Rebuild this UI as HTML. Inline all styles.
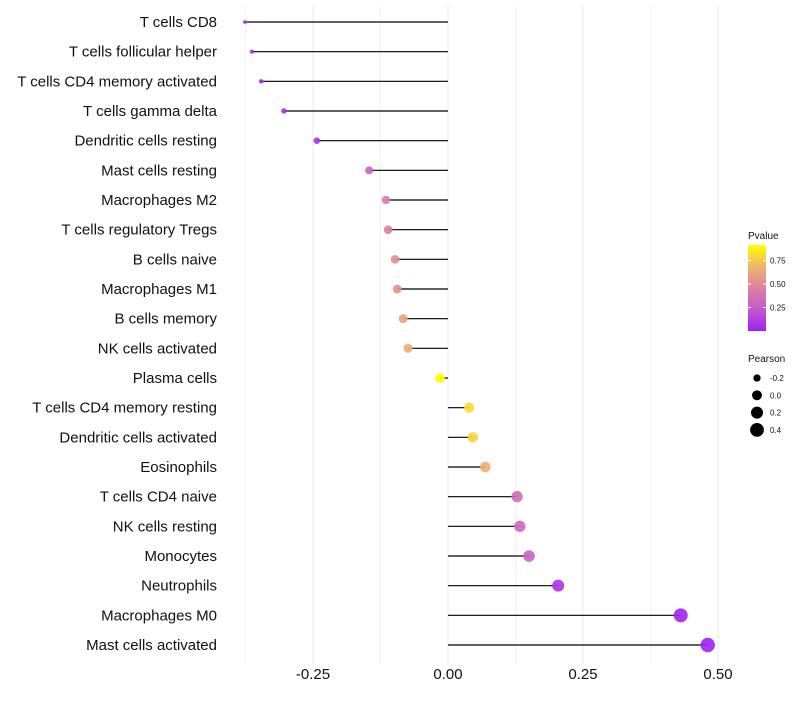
<!DOCTYPE html>
<html><head><meta charset="utf-8"><style>
body{margin:0;background:#fff;font-family:"Liberation Sans",sans-serif}
</style></head><body>
<svg id="c" width="800" height="700" xmlns="http://www.w3.org/2000/svg"></svg>
<script>
const categories=["T cells CD8","T cells follicular helper","T cells CD4 memory activated","T cells gamma delta","Dendritic cells resting","Mast cells resting","Macrophages M2","T cells regulatory  Tregs ","B cells naive","Macrophages M1","B cells memory","NK cells activated","Plasma cells","T cells CD4 memory resting","Dendritic cells activated","Eosinophils","T cells CD4 naive","NK cells resting","Monocytes","Neutrophils","Macrophages M0","Mast cells activated"];
const pearson=[-0.376,-0.363,-0.346,-0.304,-0.243,-0.146,-0.115,-0.111,-0.098,-0.094,-0.083,-0.074,-0.015,0.039,0.046,0.069,0.128,0.133,0.150,0.204,0.431,0.481];
const pvalue=[0.01,0.02,0.03,0.05,0.08,0.3,0.42,0.45,0.52,0.53,0.6,0.65,0.91,0.8,0.78,0.65,0.33,0.31,0.28,0.08,0.01,0.005];
const xTicks=[-0.25,0,0.25,0.5];
const xTickLabels=["-0.25","0.00","0.25","0.50"];
const colorTicks=[0.25,0.5,0.75];
const sizeTicks=[-0.2,0,0.2,0.4];
const NS="http://www.w3.org/2000/svg";
const svg=document.getElementById('c');
function el(t,a,p){const e=document.createElementNS(NS,t);for(const k in a)e.setAttribute(k,a[k]);(p||svg).appendChild(e);return e;}
const xS=v=>448+v*540;
const yS=i=>22+i*(623/21);
const rS=v=>Math.sqrt(Math.max(3,24.6+56.7*v));
function lerp(a,b,t){return a.map((x,i)=>Math.round(x+(b[i]-x)*t));}
function col(p){const t=Math.min(1,Math.max(0,p/0.91));const s=[[160,32,240],[196,90,204],[220,130,160],[240,180,110],[255,255,0]];const f=t*4,i=Math.min(3,Math.floor(f));const c=lerp(s[i],s[i+1],f-i);return `rgb(${c})`;}
for(let v=-0.375;v<=0.5;v+=0.125){const g=el('line',{x1:xS(v),x2:xS(v),y1:5,y2:665,stroke:'#ebebeb','stroke-width':Math.abs((v*4)%1)<1e-6?1:0.6});
}
categories.forEach((c,i)=>{
const y=yS(i);
const t=el('text',{x:217,y:y+5,'text-anchor':'end','font-size':15,fill:'#111'});t.textContent=c;

const l=el('line',{x1:xS(0),x2:xS(pearson[i]),y1:y,y2:y,stroke:'#000','stroke-width':1.2});

const d=el('circle',{cx:xS(pearson[i]),cy:y,r:rS(pearson[i]),fill:col(pvalue[i]),'fill-opacity':0.9});

});
xTicks.forEach((v,i)=>{const t=el('text',{x:xS(v),y:679,'text-anchor':'middle','font-size':15,fill:'#111'});t.textContent=xTickLabels[i];
});
const lt=el('text',{x:748,y:239,'font-size':10,fill:'#111'});lt.textContent='Pvalue';

const defs=el('defs',{});const gr=el('linearGradient',{id:'g',x1:0,y1:1,x2:0,y2:0},defs);
for(let k=0;k<=10;k++)el('stop',{offset:k/10,'stop-color':col(0.91*k/10)},gr);
const bar=el('rect',{x:748,y:245,width:18,height:86,fill:'url(#g)'});

colorTicks.forEach(p=>{const y=331-p*94;el('line',{x1:748,x2:751,y1:y,y2:y,stroke:'#fff'});el('line',{x1:763,x2:766,y1:y,y2:y,stroke:'#fff'});
const t=el('text',{x:770,y:y+3,'font-size':8,fill:'#111'});t.textContent=p.toFixed(2);
});
const st=el('text',{x:748,y:362,'font-size':10,fill:'#111'});st.textContent='Pearson';

sizeTicks.forEach((v,i)=>{const y=378+i*17.3;const c=el('circle',{cx:757,cy:y,r:rS(v),fill:'#000'});

const t=el('text',{x:770,y:y+3,'font-size':8,fill:'#111'});t.textContent=v.toFixed(1);
});
</script>
</body></html>
